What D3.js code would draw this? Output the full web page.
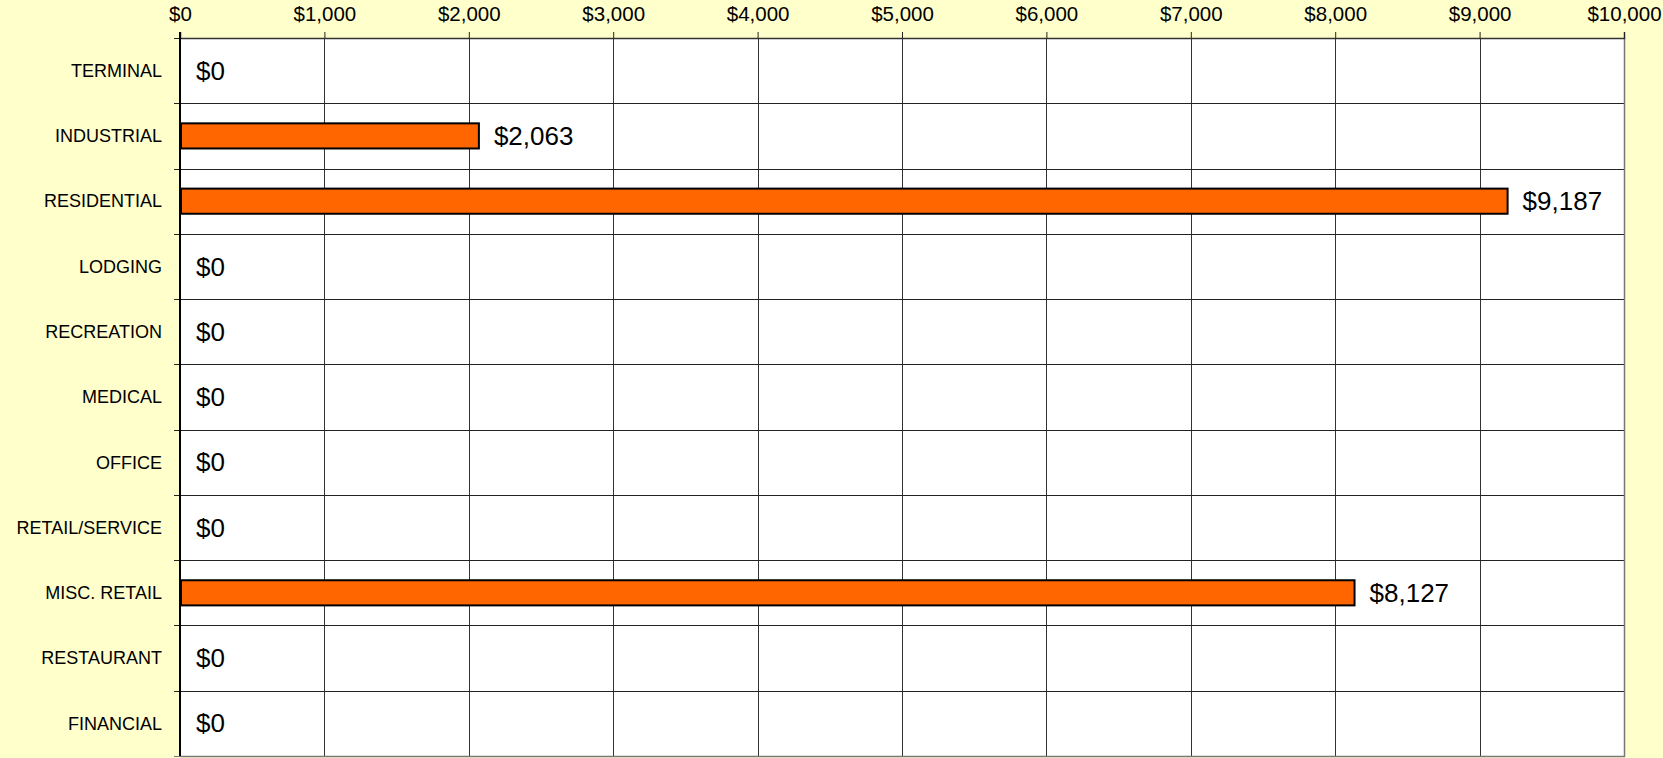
<!DOCTYPE html>
<html>
<head>
<meta charset="utf-8">
<script src="https://cdn.jsdelivr.net/npm/d3@7"></script>
<style>
  html, body { margin: 0; padding: 0; background: #FFFFCC; }
  svg { display: block; }
  text { font-family: "Liberation Sans", Arial, sans-serif; fill: #000; }
</style>
</head>
<body>
<svg id="chart" width="1663" height="758"></svg>
<script>
const categories = ["TERMINAL", "INDUSTRIAL", "RESIDENTIAL", "LODGING", "RECREATION", "MEDICAL", "OFFICE", "RETAIL/SERVICE", "MISC. RETAIL", "RESTAURANT", "FINANCIAL"];
const values = [0, 2063, 9187, 0, 0, 0, 0, 0, 8127, 0, 0];
const xTicks = [0, 1000, 2000, 3000, 4000, 5000, 6000, 7000, 8000, 9000, 10000];

const W = 1663, H = 758;
const margin = { top: 38, right: 39, bottom: 2, left: 180 };
const iw = W - margin.left - margin.right;
const ih = H - margin.top - margin.bottom;

const svg = d3.select("#chart");
svg.append("rect").attr("width", W).attr("height", H).attr("fill", "#FFFFCC");

const g = svg.append("g").attr("transform", `translate(${margin.left},${margin.top})`);

const x = d3.scaleLinear().domain([0, 10000]).range([0, iw]);
const y = d3.scaleBand().domain(categories).range([0, ih]).padding(0);

const fmt = v => "$" + d3.format(",")(v);

// plot background
g.append("rect").attr("x", 0).attr("y", 0).attr("width", iw).attr("height", ih)
  .attr("fill", "#FFFFFF");

// vertical gridlines
g.selectAll("line.vgrid").data(xTicks).join("line")
  .attr("class", "vgrid")
  .attr("x1", d => Math.round(x(d)) + 0.5).attr("x2", d => Math.round(x(d)) + 0.5)
  .attr("y1", 0).attr("y2", ih)
  .attr("stroke", "#333").attr("stroke-width", 1);

// horizontal row lines
const rowEdges = categories.map(c => y(c)).concat([ih]);
g.selectAll("line.hgrid").data(rowEdges).join("line")
  .attr("class", "hgrid")
  .attr("x1", -6).attr("x2", iw)
  .attr("y1", d => Math.round(d) + 0.5).attr("y2", d => Math.round(d) + 0.5)
  .attr("stroke", (d, i) => i === rowEdges.length - 1 ? "#777" : "#222").attr("stroke-width", 1);

// right/bottom border (gray)
g.append("line").attr("x1", iw + 0.5).attr("x2", iw + 0.5).attr("y1", 0).attr("y2", ih + 1)
  .attr("stroke", "#777").attr("stroke-width", 1.5);
g.append("line").attr("x1", 0).attr("x2", iw + 1).attr("y1", ih + 0.5).attr("y2", ih + 0.5)
  .attr("stroke", "#777").attr("stroke-width", 1.5);

// top axis
const xAxis = d3.axisTop(x).tickValues(xTicks).tickFormat(fmt).tickSizeOuter(0).tickSize(6).tickPadding(11);
const ax = g.append("g").call(xAxis);
ax.select(".domain").attr("stroke", "#333").attr("stroke-width", 1.5);
ax.selectAll(".tick line").attr("stroke", "#222");
ax.selectAll(".tick text").attr("font-size", "20.5px")
  .attr("font-family", "'Liberation Sans', Arial, sans-serif").attr("fill", "#000");

// left axis line
g.append("line").attr("x1", 0).attr("x2", 0).attr("y1", -6).attr("y2", ih)
  .attr("stroke", "#000").attr("stroke-width", 2);

// category labels
g.selectAll("text.cat").data(categories).join("text")
  .attr("class", "cat")
  .attr("x", -18)
  .attr("y", d => y(d) + y.bandwidth() / 2)
  .attr("dy", "0.35em")
  .attr("text-anchor", "end")
  .attr("font-size", "18px")
  .text(d => d);

// bars
const barH = y.bandwidth() * 0.385;
g.selectAll("rect.bar").data(values.map((v, i) => ({ c: categories[i], v })).filter(d => d.v > 0)).join("rect")
  .attr("class", "bar")
  .attr("x", x(0) + 1)
  .attr("y", d => y(d.c) + (y.bandwidth() - barH) / 2)
  .attr("width", d => x(d.v) - x(0))
  .attr("height", barH)
  .attr("fill", "#FF6600")
  .attr("stroke", "#000")
  .attr("stroke-width", 2);

// value labels
g.selectAll("text.val").data(values.map((v, i) => ({ c: categories[i], v }))).join("text")
  .attr("class", "val")
  .attr("x", d => x(d.v) + 16)
  .attr("y", d => y(d.c) + y.bandwidth() / 2)
  .attr("dy", "0.35em")
  .attr("font-size", "26px")
  .text(d => fmt(d.v));
</script>
</body>
</html>
